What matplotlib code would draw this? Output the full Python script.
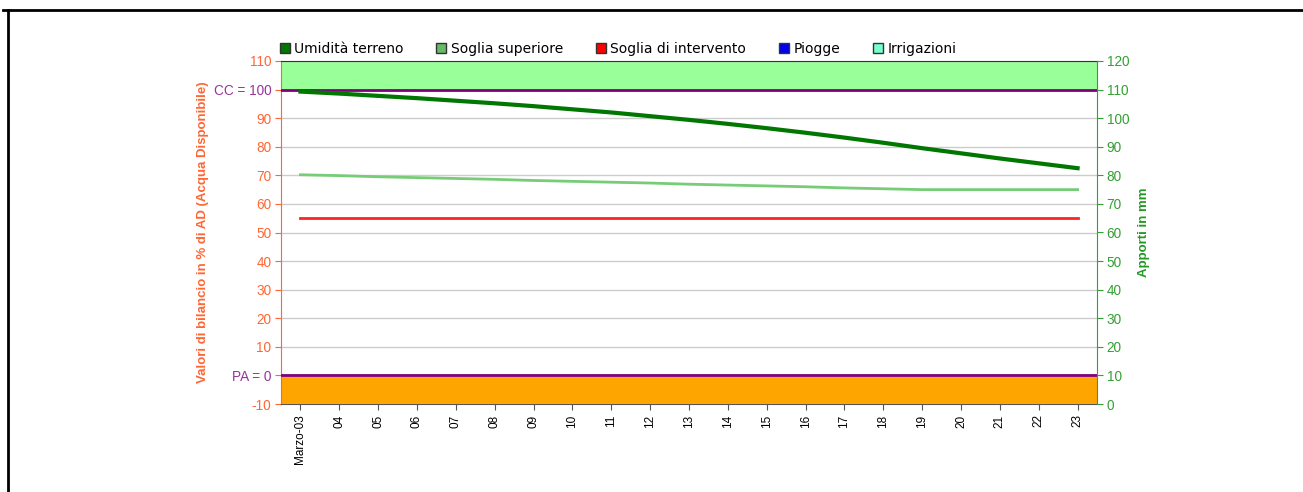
import matplotlib
matplotlib.use("Agg")
import matplotlib.pyplot as plt
from matplotlib.lines import Line2D
import numpy as np

# giorni (categorie asse x)
giorni = ["Marzo-03", "04", "05", "06", "07", "08", "09", "10", "11", "12", "13",
          "14", "15", "16", "17", "18", "19", "20", "21", "22", "23"]

# serie in % di AD
umidita = [99.3, 98.6, 97.8, 97.0, 96.1, 95.2, 94.2, 93.1, 92.0, 90.7, 89.4,
           88.0, 86.5, 84.9, 83.2, 81.4, 79.5, 77.7, 75.9, 74.2, 72.5]
soglia_sup = [70.2, 69.9, 69.5, 69.2, 68.9, 68.6, 68.2, 67.9, 67.6, 67.3, 66.9,
              66.6, 66.3, 66.0, 65.6, 65.3, 65.0, 65.0, 65.0, 65.0, 65.0]
soglia_int = [55] * 21

# apporti in mm (nessun evento nel periodo)
piogge = [0] * 21
irrigazioni = [0] * 21

cc = 100
pa = 0

c_left = "#ff6633"
c_right = "#33a033"
c_purple = "#993399"

fig = plt.figure(figsize=(13.03, 4.92), dpi=100)
ax = fig.add_axes([281 / 1303, 1 - 404 / 492, (1097 - 281) / 1303, (404 - 61) / 492])
ax2 = ax.twinx()

x = np.arange(len(giorni))

# fasce sopra CC e sotto PA
ax.axhspan(cc, 110, color="#99ff99", zorder=0)
ax.axhspan(-10, pa, color="#ffa500", zorder=0)
ax.axhline(cc, color="#800080", lw=2, zorder=3)
ax.axhline(pa, color="#800080", lw=2, zorder=3)

ax.plot(x, soglia_int, color="#ff2222", lw=2, zorder=4)
ax.plot(x, soglia_sup, color="#77cc77", lw=2, zorder=4)
ax.plot(x, umidita, color="#007700", lw=3, zorder=5)

ax2.bar(x - 0.2, piogge, width=0.4, color="#0000ee")
ax2.bar(x + 0.2, irrigazioni, width=0.4, color="#77ffcc")

ax.set_xlim(-0.5, len(giorni) - 0.5)
ax.set_ylim(-10, 110)
ax2.set_ylim(0, 120)

yt = np.arange(-10, 111, 10)
ax.set_yticks(yt)
lab = []
for v in yt:
    if v == cc:
        lab.append("CC = 100")
    elif v == pa:
        lab.append("PA = 0")
    else:
        lab.append(str(v))
ax.set_yticklabels(lab, fontsize=9.8, fontfamily="Liberation Sans")
ax.tick_params(axis="y", color=c_left, length=4, pad=3)
for t, v in zip(ax.get_yticklabels(), yt):
    t.set_color(c_purple if v in (cc, pa) else c_left)

ax2.set_yticks(np.arange(0, 121, 10))
ax2.tick_params(axis="y", colors=c_right, labelsize=9.8, length=4, pad=3)
for t in ax2.get_yticklabels():
    t.set_fontfamily("Liberation Sans")

ax.set_xticks(x)
ax.set_xticklabels(giorni, rotation=90, fontsize=8.5, fontfamily="Liberation Sans")
ax.tick_params(axis="x", length=4, color="#555555")

ax.grid(axis="y", color="#cccccc", lw=1)
ax.set_axisbelow(True)

ax.spines["left"].set_color(c_left)
ax2.spines["left"].set_visible(False)
ax.spines["right"].set_visible(False)
ax2.spines["right"].set_color(c_right)
ax.spines["bottom"].set_color("#555555")
ax2.spines["bottom"].set_visible(False)
ax.spines["top"].set_color("#333333")
ax2.spines["top"].set_visible(False)

ax.set_ylabel("Valori di bilancio in % di AD (Acqua Disponibile)", color=c_left,
              fontsize=9.5, fontweight="bold", fontfamily="Liberation Sans", labelpad=3)
ax2.set_ylabel("Apporti in mm", color="#229922", fontsize=9.5, fontweight="bold",
               fontfamily="Liberation Sans", labelpad=6)

nomi = ["Umidità terreno", "Soglia superiore", "Soglia di intervento", "Piogge", "Irrigazioni"]
colori = ["#007700", "#66bb66", "#ff0000", "#0000ee", "#77ffcc"]
handles = [Line2D([], [], marker="s", ls="", markersize=7, markerfacecolor=c,
                  markeredgecolor="#333333") for c in colori]
fig.legend(handles, nomi, loc="lower left", bbox_to_anchor=(279 / 1303, 1 - 56 / 492),
           ncol=5, frameon=False, fontsize=10, handlelength=0.8, handletextpad=0.3,
           columnspacing=2.3, borderaxespad=0, borderpad=0)

# cornice
fig.add_artist(Line2D([3 / 1303, 1], [1 - 10 / 492, 1 - 10 / 492], color="black", lw=2,
                      transform=fig.transFigure))
fig.add_artist(Line2D([8 / 1303, 8 / 1303], [0, 1 - 10 / 492], color="black", lw=2,
                      transform=fig.transFigure))

fig.savefig("out.png", dpi=100)
